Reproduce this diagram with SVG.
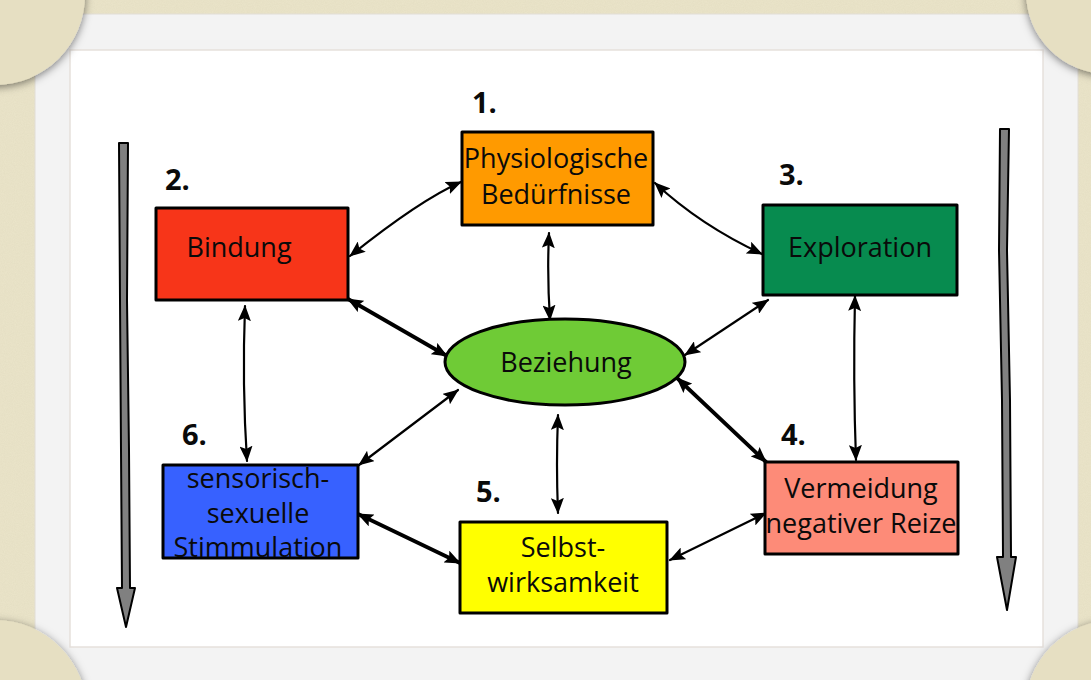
<svg xmlns="http://www.w3.org/2000/svg" width="1091" height="680" viewBox="0 0 1091 680">
<defs>
<style>
.box{stroke:#000;stroke-width:3;stroke-linejoin:round}
.lbl{font-family:"Open Sans","Liberation Sans",sans-serif;font-size:27px;fill:#0a0a0a;text-anchor:middle}
.num{font-family:"Open Sans","Liberation Sans",sans-serif;font-size:29px;font-weight:bold;fill:#0a0a0a}
.con{fill:none;stroke:#000;stroke-width:2.2;stroke-linecap:round;marker-start:url(#ah);marker-end:url(#ah)}
.thick{stroke-width:3.8}
.corner{fill:#e6dfc2;filter:url(#sh)}
.bigarrow{fill:#808080;stroke:#000;stroke-width:2;stroke-linejoin:round}
</style>
<marker id="ah" viewBox="0 0 16 13" refX="15" refY="6.5" markerWidth="16" markerHeight="13" markerUnits="userSpaceOnUse" orient="auto-start-reverse">
<path d="M0,0 L16,6.5 L0,13 L3,6.5 Z" fill="#000"/>
</marker>
<filter id="sh" x="-30%" y="-30%" width="160%" height="160%">
<feDropShadow dx="0" dy="2" stdDeviation="4" flood-color="#000" flood-opacity="0.5"/>
</filter>
<filter id="noise" x="0" y="0" width="100%" height="100%">
<feTurbulence type="fractalNoise" baseFrequency="0.9" numOctaves="2" seed="3"/>
<feColorMatrix type="matrix" values="0 0 0 0 0.55  0 0 0 0 0.5  0 0 0 0 0.35  0 0 0 0.35 0"/>
</filter>
</defs>

<!-- background -->
<rect x="0" y="0" width="1091" height="680" fill="#ebe5ca"/>
<rect x="0" y="0" width="1091" height="680" filter="url(#noise)" opacity="0.5"/>

<!-- photo frame -->
<rect x="35" y="14" width="1043" height="680" fill="#f3f3f3" stroke="#e2ded6" stroke-width="1"/>
<rect x="70" y="50" width="973" height="597" fill="#ffffff" stroke="#e6e1dc" stroke-width="1.5"/>

<!-- photo corners -->
<circle class="corner" cx="-5" cy="-5" r="90"/>
<circle class="corner" cx="1108" cy="-8" r="82"/>
<circle class="corner" cx="-5" cy="712" r="92"/>
<circle class="corner" cx="1115" cy="710" r="90"/>

<!-- big gray arrows -->
<path class="bigarrow" d="M119,143 L128,143 L127,300 L129,450 L130,588 L135,588 L126,627 L117,588 L122,588 L121,450 L120,300 Z"/>
<path class="bigarrow" d="M1000,129 L1009,129 L1007,250 L1010,400 L1011,557 L1016,557 L1007,610 L997,557 L1003,557 L1002,400 L999,250 Z"/>

<!-- connectors -->
<g id="connectors">
<path class="con" d="M461,182 Q420,200 350,256"/>
<path class="con" d="M655,183 Q700,225 762,254"/>
<path class="con" d="M549,233 Q547,275 550,320"/>
<path class="con thick" d="M348,299 L447,356"/>
<path class="con" d="M768,300 L685,355"/>
<path class="con" d="M855,296 Q853,380 856,460"/>
<path class="con" d="M245,306 Q242,385 247,461"/>
<path class="con" d="M458,390 L359,465"/>
<path class="con thick" d="M677,378 L766,462"/>
<path class="con" d="M558,415 Q556,465 558,513"/>
<path class="con thick" d="M358,514 L460,563"/>
<path class="con" d="M766,513 L670,560"/>
</g>

<!-- nodes -->
<g id="n1">
<rect class="box" x="462" y="132" width="191" height="93" fill="#ff9a00"/>
<text class="lbl" x="556" y="168" font-size="26">Physiologische</text>
<text class="lbl" x="556" y="204" font-size="26">Bedürfnisse</text>
</g>
<g id="n2">
<rect class="box" x="156" y="208" width="192" height="92" fill="#f73519"/>
<text class="lbl" x="239" y="257">Bindung</text>
</g>
<g id="n3">
<rect class="box" x="763" y="205" width="194" height="90" fill="#078b4f"/>
<text class="lbl" x="860" y="257">Exploration</text>
</g>
<g id="n0">
<ellipse class="box" cx="565" cy="362" rx="120" ry="43" fill="#6fcb36"/>
<text class="lbl" x="566" y="372">Beziehung</text>
</g>
<g id="n4">
<rect class="box" x="765" y="462" width="193" height="92" fill="#fd8b78"/>
<text class="lbl" x="861" y="498">Vermeidung</text>
<text class="lbl" x="861" y="533">negativer Reize</text>
</g>
<g id="n5">
<rect class="box" x="460" y="522" width="207" height="91" fill="#ffff00"/>
<text class="lbl" x="563" y="557">Selbst-</text>
<text class="lbl" x="563" y="592">wirksamkeit</text>
</g>
<g id="n6">
<rect class="box" x="163" y="465" width="195" height="93" fill="#3761ff"/>
<text class="lbl" x="258" y="488">sensorisch-</text>
<text class="lbl" x="258" y="523">sexuelle</text>
<text class="lbl" x="258" y="557">Stimmulation</text>
</g>

<!-- numbers -->
<g id="numbers">
<text class="num" x="472" y="113">1.</text>
<text class="num" x="165" y="190">2.</text>
<text class="num" x="779" y="185">3.</text>
<text class="num" x="781" y="445" font-weight="normal">4.</text>
<text class="num" x="476" y="502">5.</text>
<text class="num" x="182" y="445">6.</text>
</g>
</svg>
